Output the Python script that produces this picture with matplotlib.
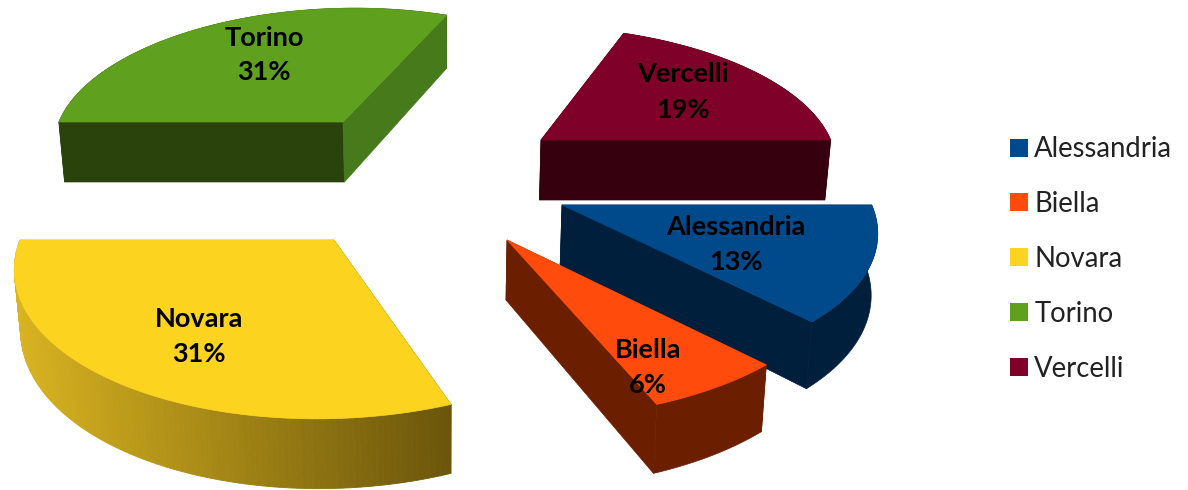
import numpy as np
import matplotlib
matplotlib.use("Agg")
import matplotlib.pyplot as plt
from matplotlib.patches import Polygon, Patch

names = ["Alessandria", "Biella", "Novara", "Torino", "Vercelli"]
values = [13, 6, 31, 31, 19]

top_colors = ["#004A8B", "#FF4C0D", "#FCD31F", "#5FA11E", "#7F0028"]
arc_colors = ["#001F3C", "#6C1F00", None, "#2A430C", "#37000F"]
cut_start_colors = ["#001F3C", "#6C1F00", "#6C560A", "#2A430C", "#37000F"]
cut_end_colors = ["#001F3C", "#6C1F00", "#D7AF1E", "#467A1A", "#37000F"]
novara_shade = ("#D9B320", "#6B560B")

# where each exploded slice has its tip, in pixels
apex_x = [562, 507, 334, 343, 541]
apex_y = [205, 240, 240, 122, 140]
rx_scale = [1, 1.03, 0.98, 1, 1]
ry_scale = [1, 1, 1, 1.07, 1.03]
label_x = [736, 648, 199, 264, 683]
label_y = [244, 367, 336, 55, 92]

RX, RY = 302, 137
VP_X, VP_Y = 440, 180
KX, KY = 0.14, 0.14
DEPTH = 60


def project(t, i, z=0.0):
    """Ground angle (radians) to picture pixels, with a rough perspective."""
    x, y = np.cos(t), np.sin(t)
    ya = (apex_y[i] - VP_Y) / RY
    s = 1 + 0.14 * ya
    wx = 1 / (1 - KX * y)
    wy = 1 / (1 - KY * y)
    sx = VP_X + (apex_x[i] + s * rx_scale[i] * RX * x - VP_X) * wx
    sy = VP_Y + (apex_y[i] + s * ry_scale[i] * RY * y - VP_Y) * wy
    sx = VP_X + (sx - VP_X) * (1 - 0.015 * z)
    sy = sy + DEPTH * z * wy
    return sx, sy


def tip(i, z=0.0):
    return VP_X + (apex_x[i] - VP_X) * (1 - 0.015 * z), apex_y[i] + DEPTH * z


def wall(ax, t, i, color):
    pts = [tip(i), project(t, i), project(t, i, 1), tip(i, 1)]
    ax.add_patch(Polygon(pts, fc=color, ec=color, lw=0.5))


def arc_wall(ax, ts, i):
    color = arc_colors[i]
    xt, yt = project(ts, i)
    xb, yb = project(ts, i, 1)
    if color is not None:
        pts = np.r_[np.c_[xt, yt], np.c_[xb, yb][::-1]]
        ax.add_patch(Polygon(pts, fc=color, ec=color, lw=0.5))
        return
    # Novara has the only shaded outer wall
    left = np.array(matplotlib.colors.to_rgb(novara_shade[0]))
    right = np.array(matplotlib.colors.to_rgb(novara_shade[1]))
    for j in range(len(ts) - 1):
        f = np.clip((xt[j] - xt.min()) / (xt.max() - xt.min()), 0, 1)
        c = left + (right - left) * f
        ax.add_patch(Polygon([(xt[j], yt[j]), (xt[j + 1], yt[j + 1]), (xb[j + 1], yb[j + 1]), (xb[j], yb[j])],
                             fc=c, ec=c, lw=0.6))


fig = plt.figure(figsize=(11.88, 4.9), dpi=100)
ax = fig.add_axes([0, 0, 1, 1])
ax.set_xlim(0, 1188)
ax.set_ylim(490, 0)
ax.axis("off")

angles = np.cumsum([0] + values) / sum(values) * 2 * np.pi

# back slices first, so the front ones overlap them
for i in [3, 4, 2, 0, 1]:
    ts = np.linspace(angles[i], angles[i + 1], 121)
    back = np.sin(ts).mean() < 0
    if back:
        arc_wall(ax, ts, i)
    wall(ax, ts[0], i, cut_start_colors[i])
    wall(ax, ts[-1], i, cut_end_colors[i])
    if not back:
        arc_wall(ax, ts, i)
    xt, yt = project(ts, i)
    pts = np.r_[[tip(i)], np.c_[xt, yt]]
    ax.add_patch(Polygon(pts, fc=top_colors[i], ec=top_colors[i], lw=0.5))

for i in range(len(names)):
    ax.text(label_x[i], label_y[i], f"{names[i]}\n{values[i]}%", ha="center", va="center",
            fontsize=19.5, fontweight="bold", family="Lato", color="black", linespacing=1.55)

handles = [Patch(fc=c, ec="none") for c in top_colors]
leg = ax.legend(handles, names, loc="center left", bbox_to_anchor=(1002, 259), bbox_transform=ax.transData,
                frameon=False, prop={"family": "Lato", "size": 19.8}, labelspacing=1.05,
                handlelength=0.63, handleheight=0.63, handletextpad=0.24, borderpad=0, borderaxespad=0.3)
for t in leg.get_texts():
    t.set_color("#222222")

fig.savefig("out.png", dpi=100)
